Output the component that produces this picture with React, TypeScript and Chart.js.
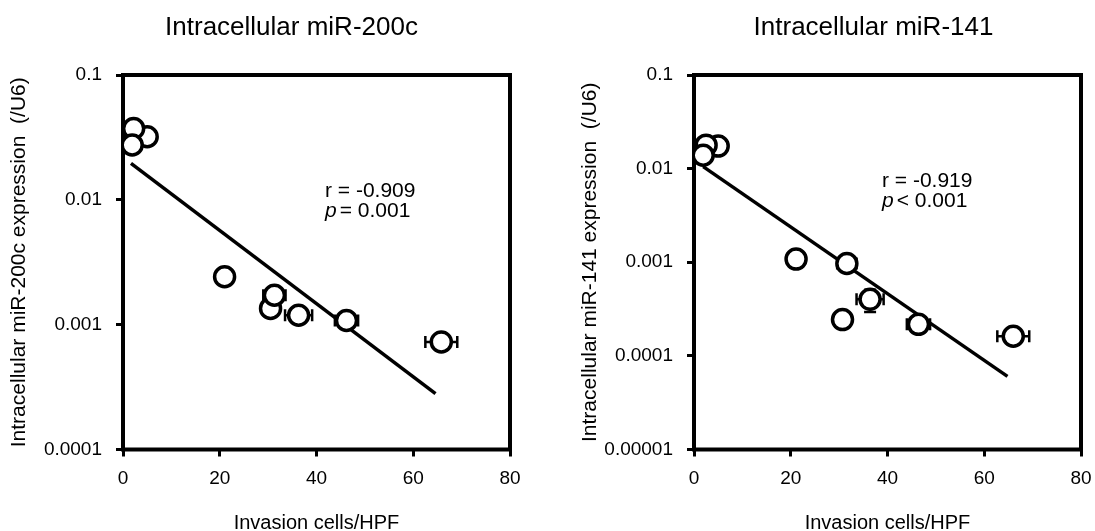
import React, { useEffect, useRef } from "react";
import { Chart, registerables } from "chart.js";

Chart.register(...registerables);

const FONT = '"Liberation Sans", Arial, Helvetica, sans-serif';

// shared axis
const xTickValues = [0, 20, 40, 60, 80];
const xAxisTitle = "Invasion cells/HPF";

// ---- Panel 1: miR-200c ----
const title200c = "Intracellular miR-200c";
const yTitle200c = "Intracellular miR-200c expression  (/U6)";
const invasion200c = [5.0, 2.2, 1.9, 21.0, 30.5, 31.3, 36.3, 46.2, 65.8];
const expr200c = [0.032, 0.0373, 0.0275, 0.00242, 0.00135, 0.00172, 0.00119, 0.00108, 0.000727];
const invasionErr200c = [0, 0, 0, 0, 0, 2.3, 2.8, 2.4, 3.3];
const exprErr200c = [0, 0, 0, 0, 0, 0, 0, 0, 0];
const fitX200c = [1.65, 64.6];
const fitY200c = [0.0196, 0.00028];
const yTicks200c = [0.0001, 0.001, 0.01, 0.1];
const yTickLabels200c = ["0.0001", "0.001", "0.01", "0.1"];
const statR200c = "r = -0.909";
const statP200c = "= 0.001";

// ---- Panel 2: miR-141 ----
const title141 = "Intracellular miR-141";
const yTitle141 = "Intracellular miR-141 expression  (/U6)";
const invasion141 = [5.0, 2.5, 1.9, 21.1, 31.6, 36.4, 30.7, 46.4, 66.0];
const expr141 = [0.0174, 0.0178, 0.0139, 0.00108, 0.00097, 0.000402, 0.000244, 0.000217, 0.000162];
const invasionErr141 = [0, 0, 0, 0, 2.0, 2.8, 0, 2.4, 3.3];
const exprErr141 = [0, 0, 0, 0, 0, 0.000108, 0, 0, 0];
const fitX141 = [1.9, 64.8];
const fitY141 = [0.0105, 0.0000604];
const yTicks141 = [0.00001, 0.0001, 0.001, 0.01, 0.1];
const yTickLabels141 = ["0.00001", "0.0001", "0.001", "0.01", "0.1"];
const statR141 = "r = -0.919";
const statP141 = "< 0.001";

const framePlugin = {
  id: "frame",
  beforeDatasetsDraw(chart: any) {
    const { ctx, chartArea: a } = chart;
    ctx.save();
    ctx.lineWidth = 4;
    ctx.strokeStyle = "#000";
    ctx.strokeRect(a.left, a.top, a.right - a.left, a.bottom - a.top);
    ctx.restore();
  },
};

const errorBarPlugin = {
  id: "errorBars",
  beforeDatasetsDraw(chart: any, _args: any, o: any) {
    const { ctx } = chart;
    const xs = chart.scales.x;
    const ys = chart.scales.y;
    const cap = 6;
    ctx.save();
    ctx.strokeStyle = "#000";
    ctx.lineWidth = 2.5;
    o.xs.forEach((xv: number, i: number) => {
      const yv = o.ys[i];
      const px = xs.getPixelForValue(xv);
      const py = ys.getPixelForValue(yv);
      const xe = o.xErr[i];
      if (xe) {
        const l = xs.getPixelForValue(xv - xe);
        const r = xs.getPixelForValue(xv + xe);
        ctx.beginPath();
        ctx.moveTo(l, py);
        ctx.lineTo(r, py);
        ctx.moveTo(l, py - cap);
        ctx.lineTo(l, py + cap);
        ctx.moveTo(r, py - cap);
        ctx.lineTo(r, py + cap);
        ctx.stroke();
      }
      const ye = o.yErr[i];
      if (ye) {
        const t = ys.getPixelForValue(yv + ye);
        const b = ys.getPixelForValue(yv - ye);
        ctx.beginPath();
        ctx.moveTo(px, t);
        ctx.lineTo(px, b);
        ctx.moveTo(px - cap, t);
        ctx.lineTo(px + cap, t);
        ctx.moveTo(px - cap, b);
        ctx.lineTo(px + cap, b);
        ctx.stroke();
      }
    });
    ctx.restore();
  },
};

const textPlugin = {
  id: "panelText",
  afterDraw(chart: any, _args: any, o: any) {
    const { ctx, chartArea: a } = chart;
    ctx.save();
    ctx.fillStyle = "#000";
    ctx.font = `26px ${FONT}`;
    ctx.textAlign = "center";
    ctx.textBaseline = "middle";
    ctx.fillText(o.title, (a.left + a.right) / 2 + o.titleShift, o.titleY);
    ctx.textAlign = "left";
    ctx.textBaseline = "alphabetic";
    const sx = a.left + o.statDx;
    const sy = a.top + o.statDy;
    ctx.font = `21px ${FONT}`;
    ctx.fillText(o.rText, sx, sy);
    ctx.font = `italic 21px ${FONT}`;
    ctx.fillText("p", sx, sy + o.lineGap);
    const w = ctx.measureText("p").width;
    ctx.font = `21px ${FONT}`;
    ctx.fillText(o.pText, sx + w + 3, sy + o.lineGap);
    ctx.restore();
  },
};

type PanelProps = {
  width: number;
  height: number;
  padRight: number;
  title: string;
  titleShift: number;
  yTitle: string;
  xsData: number[];
  ysData: number[];
  xErr: number[];
  yErr: number[];
  fitX: number[];
  fitY: number[];
  yTicks: number[];
  yTickLabels: string[];
  rText: string;
  pText: string;
  statDx: number;
  statDy: number;
};

function Panel(p: PanelProps) {
  const ref = useRef<HTMLCanvasElement | null>(null);
  useEffect(() => {
    if (!ref.current) return;
    const chart = new Chart(ref.current, {
      type: "scatter",
      data: {
        datasets: [
          {
            type: "scatter",
            data: p.xsData.map((x, i) => ({ x, y: p.ysData[i] })),
            pointRadius: 10,
            pointHoverRadius: 10,
            borderWidth: 3.5,
            backgroundColor: "#fff",
            borderColor: "#000",
          } as any,
          {
            type: "line",
            data: p.fitX.map((x, i) => ({ x, y: p.fitY[i] })),
            borderColor: "#000",
            borderWidth: 3.5,
            pointRadius: 0,
            fill: false,
            tension: 0,
          } as any,
        ],
      },
      options: {
        animation: false,
        responsive: false,
        devicePixelRatio: 1,
        layout: { padding: { top: 75, right: p.padRight, bottom: 0, left: 0 } },
        plugins: {
          legend: { display: false },
          tooltip: { enabled: false },
          errorBars: { xs: p.xsData, ys: p.ysData, xErr: p.xErr, yErr: p.yErr },
          panelText: {
            title: p.title,
            titleShift: p.titleShift,
            titleY: 28,
            rText: p.rText,
            pText: p.pText,
            statDx: p.statDx,
            statDy: p.statDy,
            lineGap: 20,
          },
        } as any,
        scales: {
          x: {
            type: "linear",
            min: 0,
            max: 80,
            afterBuildTicks: (s: any) => {
              s.ticks = xTickValues.map((v) => ({ value: v }));
            },
            afterFit: (s: any) => {
              s.height = 81.5;
              s.paddingLeft = 0;
              s.paddingRight = 0;
            },
            ticks: {
              color: "#000",
              font: { family: FONT, size: 19 },
              padding: 11,
              maxRotation: 0,
            },
            grid: {
              display: true,
              drawOnChartArea: false,
              drawTicks: true,
              tickLength: 7,
              tickWidth: 3,
              tickColor: "#000",
            },
            border: { display: false },
            title: {
              display: true,
              text: xAxisTitle,
              color: "#000",
              font: { family: FONT, size: 20, lineHeight: 0.8 },
              padding: { top: 0, bottom: 0 },
            },
          },
          y: {
            type: "logarithmic",
            min: p.yTicks[0],
            max: p.yTicks[p.yTicks.length - 1],
            afterBuildTicks: (s: any) => {
              s.ticks = p.yTicks.map((v) => ({ value: v }));
            },
            afterFit: (s: any) => {
              s.width = 123;
              s.paddingTop = 0;
              s.paddingBottom = 0;
            },
            ticks: {
              color: "#000",
              font: { family: FONT, size: 19 },
              padding: 14,
              callback: (v: any) => {
                const idx = p.yTicks.findIndex((t) => Math.abs(t - v) / t < 1e-6);
                return idx >= 0 ? p.yTickLabels[idx] : "";
              },
            },
            grid: {
              display: true,
              drawOnChartArea: false,
              drawTicks: true,
              tickLength: 7,
              tickWidth: 3,
              tickColor: "#000",
            },
            border: { display: false },
            title: {
              display: true,
              text: p.yTitle,
              color: "#000",
              font: { family: FONT, size: 21, lineHeight: 1.2 },
              padding: { top: 7, bottom: 0 },
            },
          },
        },
      } as any,
      plugins: [framePlugin, errorBarPlugin, textPlugin],
    });
    return () => chart.destroy();
  }, []);
  return (
    <canvas
      ref={ref}
      width={p.width}
      height={p.height}
      style={{ width: p.width, height: p.height, display: "block" }}
    />
  );
}

export default function App() {
  return (
    <div style={{ position: "fixed", left: 0, top: 0, width: 1095, height: 531, background: "#fff", overflow: "hidden" }}>
      <div style={{ position: "absolute", left: 0, top: 0 }}>
        <Panel
          width={571}
          height={531}
          padRight={61}
          title={title200c}
          titleShift={-25}
          yTitle={yTitle200c}
          xsData={invasion200c}
          ysData={expr200c}
          xErr={invasionErr200c}
          yErr={exprErr200c}
          fitX={fitX200c}
          fitY={fitY200c}
          yTicks={yTicks200c}
          yTickLabels={yTickLabels200c}
          rText={statR200c}
          pText={statP200c}
          statDx={202}
          statDy={122}
        />
      </div>
      <div style={{ position: "absolute", left: 571, top: 0 }}>
        <Panel
          width={524}
          height={531}
          padRight={14}
          title={title141}
          titleShift={-14}
          yTitle={yTitle141}
          xsData={invasion141}
          ysData={expr141}
          xErr={invasionErr141}
          yErr={exprErr141}
          fitX={fitX141}
          fitY={fitY141}
          yTicks={yTicks141}
          yTickLabels={yTickLabels141}
          rText={statR141}
          pText={statP141}
          statDx={188}
          statDy={112}
        />
      </div>
    </div>
  );
}
